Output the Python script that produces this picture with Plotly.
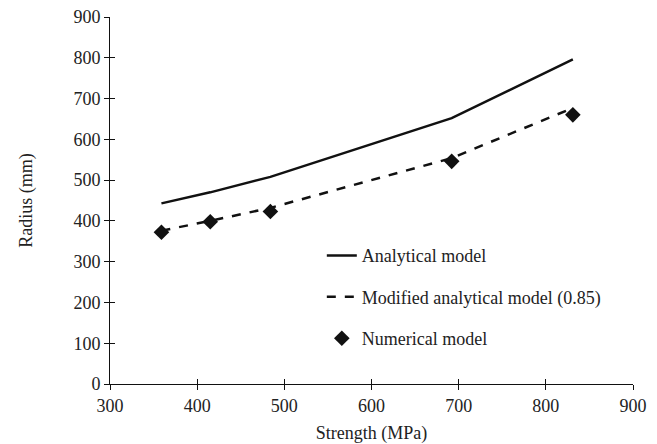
import plotly.graph_objects as go

strength = [359, 415, 484, 692, 831]
analytical = [443, 470, 508, 652, 796]
modified = [376, 400, 432, 554, 677]
numerical = [372, 398, 423, 546, 660]

x_ticks = [300, 400, 500, 600, 700, 800, 900]
y_ticks = [0, 100, 200, 300, 400, 500, 600, 700, 800, 900]

font = dict(family="Liberation Serif, Times New Roman, serif", size=18, color="#222")

fig = go.Figure()
fig.add_trace(go.Scatter(x=strength, y=analytical, mode="lines", name="Analytical model",
                         line=dict(color="#111", width=2.5), legendgroup="a"))
fig.add_trace(go.Scatter(x=strength, y=modified, mode="lines", name="Modified analytical model (0.85)",
                         line=dict(color="#111", width=2.5, dash="dash"), legendgroup="b"))
fig.add_trace(go.Scatter(x=strength, y=numerical, mode="markers", name="Numerical model",
                         marker=dict(symbol="diamond", size=12, color="#111"), legendgroup="c"))

axis_common = dict(showgrid=False, zeroline=False, showline=True, linecolor="#111", linewidth=1,
                   ticks="outside", ticklen=5, tickcolor="#111", tickwidth=1, tickfont=font,
                   automargin=False)

fig.update_layout(
    width=657, height=444,
    margin=dict(l=110, r=24, t=17, b=60),
    paper_bgcolor="white", plot_bgcolor="white",
    font=font,
    xaxis=dict(range=[300, 900], tickvals=x_ticks, title=dict(text="Strength (MPa)", font=font, standoff=14),
               **axis_common),
    yaxis=dict(range=[0, 900], tickvals=y_ticks, title=dict(text="Radius (mm)", font=font, standoff=36),
               **axis_common),
    xaxis2=dict(range=[300, 900], tickvals=x_ticks, overlaying="x", showticklabels=False,
                showgrid=False, zeroline=False, showline=False, ticks="inside", ticklen=5,
                tickcolor="#111", tickwidth=1, anchor="y"),
    yaxis2=dict(range=[0, 900], tickvals=y_ticks, overlaying="y", showticklabels=False,
                showgrid=False, zeroline=False, showline=False, ticks="inside", ticklen=5,
                tickcolor="#111", tickwidth=1, anchor="x"),
    legend=dict(x=0.405, y=0.40, xanchor="left", yanchor="top", bgcolor="rgba(0,0,0,0)",
                font=font, traceorder="grouped", tracegroupgap=15),
    showlegend=True,
)
fig.add_trace(go.Scatter(x=[None], y=[None], xaxis="x2", yaxis="y2", showlegend=False, hoverinfo="skip"))

fig.write_html("out.html")
